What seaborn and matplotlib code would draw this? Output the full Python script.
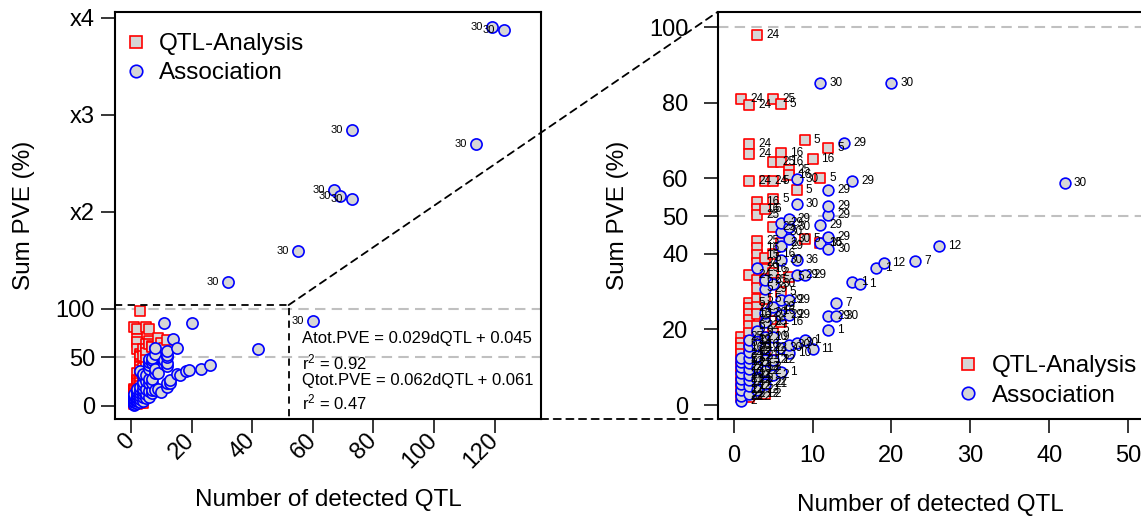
import matplotlib
matplotlib.use("Agg")
import matplotlib.pyplot as plt
import pandas as pd
import seaborn as sns
from matplotlib.lines import Line2D
from matplotlib.patches import ConnectionPatch

# ---------------- data ----------------
qtl_x = ([1] * 11 + [2] * 18 + [3] * 20 + [4] * 12 + [5] * 10 + [6] * 6 + [7] * 3
         + [8] + [9, 9] + [10] + [11, 11] + [12])
qtl_y = [81, 18, 16.5, 15, 13.5, 12, 10, 8, 6, 4, 2,
         79.5, 69, 66.3, 59.2, 34.5, 27, 25.8, 24, 22.5, 21, 19, 17, 15, 13, 11, 8, 5, 2,
         98, 53.7, 52, 50.3, 43.5, 41.5, 39.7, 37.5, 33, 31, 28, 26, 24, 21, 18, 15, 12, 9, 6, 3,
         59.2, 52, 39, 36, 33, 28, 22, 18, 14, 10, 6, 3,
         80.9, 64.4, 59.2, 54.4, 47.2, 40, 35, 25, 20, 12,
         79.6, 66.8, 64.4, 43, 30, 22,
         62.3, 60.8, 34,
         57,
         70.1, 43.8,
         65,
         60, 42.9,
         67.9]
qtl_lab = [24, 25, 6, 16, 24, 5, 22, 2, 12, 2, 22,
           24, 24, 24, 24, 24, 5, 24, 16, 25, 6, 2, 12, 22, 2, 21, 12, 2, 22,
           24, 16, 16, 25, 25, 16, 15, 24, 6, 5, 5, 2, 12, 22, 2, 12, 2, 22, 2, 12,
           24, 6, 5, 16, 25, 5, 25, 2, 12, 2, 22, 2,
           25, 25, 5, 5, 25, 16, 2, 16, 5, 2,
           5, 16, 16, 2, 5, 16,
           25, 16, 5,
           5,
           5, 5,
           16,
           5, 15,
           5]

assoc_x = ([1] * 9 + [2] * 10 + [3] * 7 + [4] * 9 + [5] * 5 + [6] * 8 + [7] * 7 + [8] * 5
           + [9, 9] + [10] + [11] * 3 + [12] * 7 + [13, 13] + [14] + [15, 15] + [16] + [18]
           + [19] + [20] + [23] + [26] + [32] + [42] + [55] + [60] + [67] + [69] + [73, 73]
           + [114] + [119] + [123])
assoc_y = [1, 2.5, 4, 5.5, 7, 8.5, 10, 11.5, 12.5,
           3, 5, 6.5, 8, 9.5, 11, 12.5, 14, 15.5, 17.2,
           4, 7, 10, 13, 16, 19.6, 36.2,
           5.6, 9, 12, 15, 18, 22, 24.3, 30.6, 33,
           8, 12, 18, 26, 32,
           8.8, 15, 23.8, 27.8, 38.4, 42, 45.8, 48.2,
           13.7, 16, 23.7, 27.8, 43.8, 47, 49.1,
           16.5, 34.4, 38.4, 53.3, 59.7,
           17.2, 34.4,
           14.8,
           42.8, 47.6, 85.3,
           19.8, 23.5, 41.4, 44.5, 50.2, 52.7, 57,
           23.5, 27.1,
           69.4,
           59.3, 32.6,
           32, 36.2, 37.5, 85.1, 38.1, 42.1, 128, 58.8, 160, 87.6, 222.7, 216, 213, 284.5,
           270, 391, 387.6]
assoc_lab = [2, 22, 12, 2, 21, 10, 22, 12, 2,
             2, 12, 22, 21, 10, 2, 12, 22, 30, 29,
             22, 2, 12, 21, 10, 9, 29,
             21, 2, 12, 22, 10, 9, 30, 29, 6,
             2, 12, 9, 29, 30,
             1, 30, 29, 29, 30, 29, 30, 29,
             10, 30, 29, 29, 30, 30, 29,
             30, 29, 36, 30, 30,
             1, 29,
             11,
             36, 29, 30,
             1, 29, 30, 29, 29, 29, 29,
             30, 7,
             29,
             29, 1,
             1, 1, 12, 30, 7, 12, 30, 30, 30, 30, 30, 30, 30, 30,
             30, 30, 30]

left_yticks = [0, 50, 100, 200, 300, 400]
left_yticklabels = ["0", "50", "100", "x2", "x3", "x4"]
left_xticks = [0, 20, 40, 60, 80, 100, 120]
right_yticks = [0, 20, 40, 50, 60, 80, 100]
right_xticks = [0, 10, 20, 30, 40, 50]
zoom_xmax, zoom_ymax = 52, 104

# ---------------- style ----------------
sns.set_theme(style="ticks")
plt.rcParams['font.family'] = ['Liberation Sans', 'DejaVu Sans']
plt.rcParams['mathtext.default'] = 'regular'
plt.rcParams['axes.linewidth'] = 1.5
for k in ("text.color", "axes.labelcolor", "xtick.color", "ytick.color", "axes.edgecolor"):
    plt.rcParams[k] = "black"

RED, BLUE, FILL, GRID = "#ff0000", "#0000ff", "#d6d6d6", "#c0c0c0"

qtl = pd.DataFrame({"x": qtl_x, "y": qtl_y, "lab": qtl_lab})
assoc = pd.DataFrame({"x": assoc_x, "y": assoc_y, "lab": assoc_lab})

fig = plt.figure(figsize=(11.41, 5.2), dpi=100)
axL = fig.add_axes([115 / 1141, 101 / 520, 426 / 1141, 407 / 520])
axR = fig.add_axes([717.5 / 1141, 101 / 520, 426.4 / 1141, 407 / 520])

for ax, ssq, sci in ((axL, 55, 65), (axR, 48, 60)):
    for yv in (50, 100):
        ax.axhline(yv, color=GRID, lw=1.5, dashes=(5, 3), zorder=1)
    sns.scatterplot(data=qtl, x="x", y="y", marker="s", s=ssq, color=FILL,
                    edgecolor=RED, linewidth=1.2, ax=ax, legend=False, zorder=3)
    sns.scatterplot(data=assoc, x="x", y="y", marker="o", s=sci, color=FILL,
                    edgecolor=BLUE, linewidth=1.2, ax=ax, legend=False, zorder=4)

# Left panel
axL.set_xlim(-5.3, 135.3)
axL.set_ylim(-13.4, 406)
axL.set_yticks(left_yticks)
axL.set_yticklabels(left_yticklabels)
axL.set_xticks(left_xticks)
axL.set_xticklabels([str(v) for v in left_xticks], rotation=45, ha="right",
                    va="center", rotation_mode="anchor")
axL.tick_params(axis="y", length=10, width=1.1, labelsize=17, pad=4.5)
axL.tick_params(axis="x", length=10, width=1.1, labelsize=17, pad=3)
axL.set_xlabel("Number of detected QTL", fontsize=17.5)
axL.set_ylabel("Sum PVE (%)", fontsize=17.5)
axL.xaxis.set_label_coords(0.5, -0.172)
axL.yaxis.set_label_coords(-0.188, 0.5)

for _, r in assoc.iterrows():
    if r.x > zoom_xmax or r.y > zoom_ymax:
        axL.annotate(str(int(r.lab)), (r.x, r.y), xytext=(-6.5, 0),
                     textcoords="offset points", ha="right", va="center",
                     fontsize=8, zorder=6)

x0, y0 = axL.get_xlim()[0], axL.get_ylim()[0]
axL.plot([x0, zoom_xmax, zoom_xmax], [zoom_ymax, zoom_ymax, y0], color="black",
         lw=1.3, dashes=(4, 3), zorder=5)

eq_lines = ["Atot.PVE = 0.029dQTL + 0.045", "r$^2$ = 0.92",
            "Qtot.PVE = 0.062dQTL + 0.061", "r$^2$ = 0.47"]
for txt, yy in zip(eq_lines, (0.197, 0.140, 0.094, 0.040)):
    axL.text(0.439, yy, txt, transform=axL.transAxes, fontsize=12, va="center", ha="left")

h_q = Line2D([], [], marker="s", ls="", markersize=8, markerfacecolor=FILL,
             markeredgecolor=RED, markeredgewidth=1.2)
h_a = Line2D([], [], marker="o", ls="", markersize=9, markerfacecolor=FILL,
             markeredgecolor=BLUE, markeredgewidth=1.2)
axL.legend([h_q, h_a], ["QTL-Analysis", "Association"], loc="upper left",
           bbox_to_anchor=(0.02, 0.948), frameon=False, fontsize=17.5,
           handlelength=1.0, handletextpad=0.45, borderpad=0, borderaxespad=0,
           labelspacing=0.3)

# Right panel
axR.set_xlim(-2.04, zoom_xmax)
axR.set_ylim(-3.7, zoom_ymax)
axR.set_yticks(right_yticks)
axR.set_xticks(right_xticks)
axR.tick_params(axis="y", length=10, width=1.1, labelsize=17, pad=11)
axR.tick_params(axis="x", length=10, width=1.1, labelsize=17, pad=9)
for t in axR.yaxis.get_major_ticks():
    if t.get_loc() == 50:
        t.tick1line.set_color(GRID)
        t.label1.set_color(GRID)
axR.set_xlabel("Number of detected QTL", fontsize=17.5)
axR.set_ylabel("Sum PVE (%)", fontsize=17.5)
axR.xaxis.set_label_coords(0.5, -0.184)
axR.yaxis.set_label_coords(-0.207, 0.5)

for df in (qtl, assoc):
    for _, r in df.iterrows():
        axR.annotate(str(int(r.lab)), (r.x, r.y), xytext=(6.5, 0),
                     textcoords="offset points", ha="left", va="center",
                     fontsize=8.5, zorder=6)

axR.legend([h_q, h_a], ["QTL-Analysis", "Association"], loc="lower left",
           bbox_to_anchor=(0.56, 0.03), frameon=False, fontsize=17.5,
           handlelength=1.0, handletextpad=0.45, borderpad=0, borderaxespad=0,
           labelspacing=0.3)

# connectors between panels
c1 = ConnectionPatch(xyA=(zoom_xmax, zoom_ymax), coordsA=axL.transData,
                     xyB=(0, 1), coordsB=axR.transAxes, color="black", lw=1.3,
                     linestyle=(0, (4, 3)))
c2 = ConnectionPatch(xyA=(1, 0), coordsA=axL.transAxes, xyB=(0, 0),
                     coordsB=axR.transAxes, color="black", lw=1.3,
                     linestyle=(0, (4, 3)))
fig.add_artist(c1)
fig.add_artist(c2)

fig.savefig("out.png", dpi=100)
